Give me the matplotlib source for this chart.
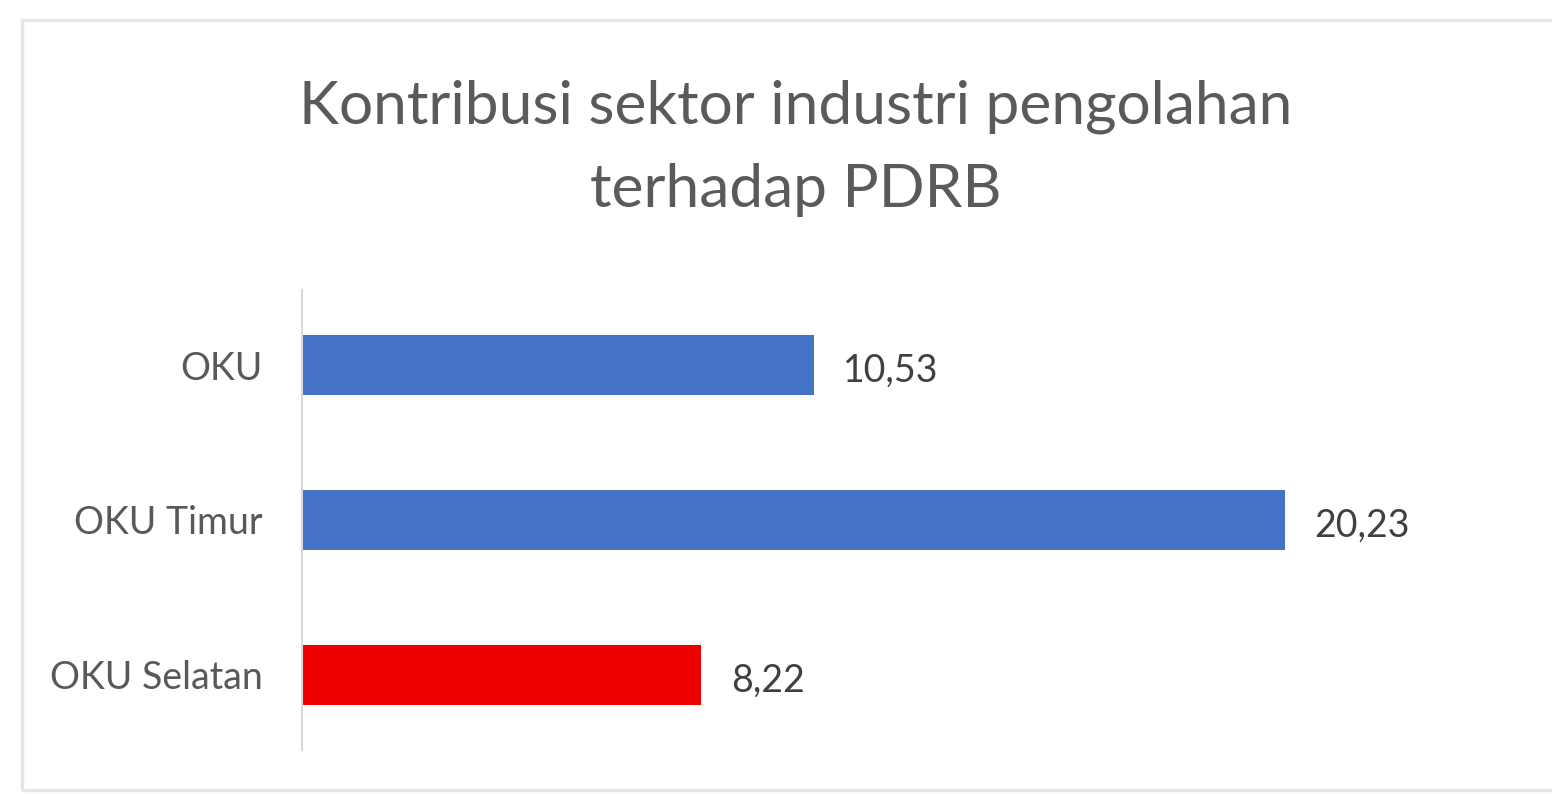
import matplotlib.pyplot as plt
from matplotlib.patches import Rectangle

# data
categories = ["OKU", "OKU Timur", "OKU Selatan"]
values = [10.53, 20.23, 8.22]
bar_colors = ["#4472C4", "#4472C4", "#EE0000"]
title_lines = ["Kontribusi sektor industri pengolahan", "terhadap PDRB"]

W, H = 1552, 794
plt.rcParams['font.family'] = ['Lato', 'DejaVu Sans']
fig = plt.figure(figsize=(W / 100, H / 100), dpi=100)

# light chart frame
fig.patches.append(Rectangle((22 / W, 4 / H), 1.2, 1 - 24 / H, transform=fig.transFigure,
                             fill=False, edgecolor="#e6e6e6", linewidth=2.5))

ax = fig.add_axes([302 / W, 1 - 750 / H, 1198 / W, 460 / H])
ypos = list(range(len(categories)))
ax.barh(ypos, values, height=0.39, color=bar_colors)
ax.set_xlim(0, 1198 / 48.6)
ax.set_ylim(len(categories) - 0.516, -0.484)
ax.set_yticks(ypos)
ax.set_yticklabels(categories, fontsize=27, color="#595959")
ax.tick_params(axis="y", length=0, pad=28)
ax.set_xticks([])
for s in ["top", "right", "bottom"]:
    ax.spines[s].set_visible(False)
ax.spines["left"].set_color("#d9d9d9")
ax.spines["left"].set_linewidth(1.5)

for y, v in zip(ypos, values):
    ax.annotate(f"{v:.2f}".replace(".", ","), xy=(v, y), xytext=(21, -4),
                textcoords="offset points", va="center", ha="left",
                fontsize=27, color="#404040")

fig.text(796 / W, 1 - 123 / H, title_lines[0], ha="center", va="baseline",
         fontsize=43.5, color="#5a5a5a")
fig.text(796 / W, 1 - 207 / H, title_lines[1], ha="center", va="baseline",
         fontsize=43.5, color="#5a5a5a")

fig.savefig("out.png", dpi=100)
